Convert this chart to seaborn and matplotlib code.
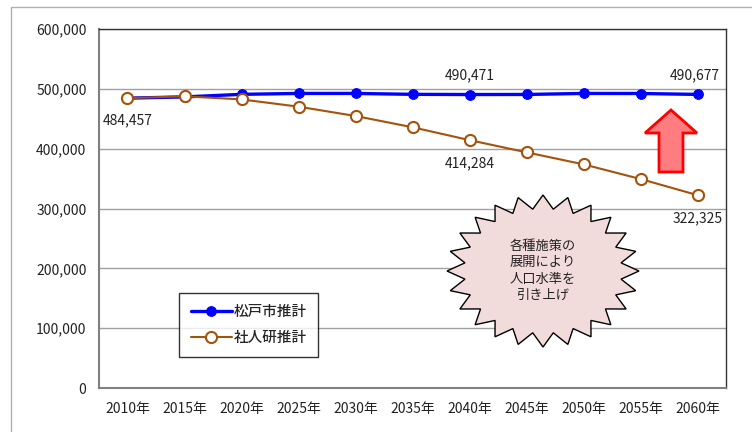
import numpy as np
import pandas as pd
import matplotlib
matplotlib.use("Agg")
import matplotlib.pyplot as plt
import seaborn as sns
from matplotlib.patches import Polygon, Rectangle

years = ["2010年", "2015年", "2020年", "2025年", "2030年", "2035年",
         "2040年", "2045年", "2050年", "2055年", "2060年"]
matsudo = [484457, 486500, 490800, 492300, 492300, 490800,
           490471, 490600, 492300, 492200, 490677]
shajinken = [484457, 487500, 482300, 470200, 454600, 435800,
             414284, 393900, 373800, 349300, 322325]
series_names = ["松戸市推計", "社人研推計"]
yticks = [0, 100000, 200000, 300000, 400000, 500000, 600000]
annotations = [(0, 484457, "484,457"), (6, 490471, "490,471"), (6, 414284, "414,284"),
               (10, 490677, "490,677"), (10, 322325, "322,325")]
burst_text = "各種施策の\n展開により\n人口水準を\n引き上げ"

sns.set_theme(style="white")
plt.rcParams['font.family'] = ['Noto Sans CJK JP', 'DejaVu Sans']

W, H = 752, 432
fig = plt.figure(figsize=(W / 100, H / 100), dpi=100)
ax = fig.add_axes([99 / W, 1 - 388 / H, (726 - 99) / W, (388 - 29) / H])

x = np.arange(len(years))
df = pd.DataFrame({"x": np.concatenate([x, x]),
                   "value": matsudo + shajinken,
                   "series": [series_names[0]] * len(x) + [series_names[1]] * len(x)})

blue = "#0000FF"
brown = "#A5520C"
FS = 10
sns.lineplot(data=df[df.series == series_names[0]], x="x", y="value", ax=ax,
             color=blue, linewidth=2.4, marker="o", markersize=7,
             markerfacecolor=blue, markeredgecolor=blue, label=series_names[0], zorder=3)
sns.lineplot(data=df[df.series == series_names[1]], x="x", y="value", ax=ax,
             color=brown, linewidth=1.5, marker="o", markersize=8,
             markerfacecolor="white", markeredgecolor=brown, markeredgewidth=1.5,
             label=series_names[1], zorder=4)

ax.set_xlim(-0.5, len(years) - 0.5)
ax.set_ylim(0, 600000)
ax.set_yticks(yticks)
ax.set_yticklabels([f"{v:,}" for v in yticks], fontsize=FS, color="#222222")
ax.set_xticks(x)
ax.set_xticklabels(years, fontsize=FS, color="#222222")
ax.set_xticks(np.arange(len(years) + 1) - 0.5, minor=True)
ax.tick_params(axis="x", which="major", length=0, pad=10)
ax.tick_params(axis="x", which="minor", length=5, width=1, color="#808080", direction="out")
ax.tick_params(axis="y", which="major", length=5, width=1, color="#808080", direction="out", pad=4)
ax.set_xlabel("")
ax.set_ylabel("")
ax.grid(axis="y", color="#A0A0A0", linewidth=1)
ax.set_axisbelow(True)
for s in ["left", "bottom"]:
    ax.spines[s].set_color("#808080")
    ax.spines[s].set_linewidth(1.5)
for s in ["top", "right"]:
    ax.spines[s].set_color("#333333")
    ax.spines[s].set_linewidth(1.0)

# data labels
offs = {"484,457": (0, -16), "490,471": (0, 14), "414,284": (0, -17),
        "490,677": (-2, 14), "322,325": (0, -17)}
for xi, yv, t in annotations:
    dx, dy = offs[t]
    ax.annotate(t, (xi, yv), xytext=(dx, dy), textcoords="offset points",
                ha="center", va="center", fontsize=FS, color="#222222", zorder=6)

# legend
leg = ax.legend(loc="upper left", bbox_to_anchor=((179 - 99) / 627, (388 - 293) / 359),
                frameon=True, fancybox=False, fontsize=10.5, handlelength=2.8,
                handletextpad=0.15, borderpad=0.8, labelspacing=0.85, borderaxespad=0)
leg.get_frame().set_edgecolor("black")
leg.get_frame().set_linewidth(1.0)
for t in leg.get_texts():
    t.set_fontweight("medium")

# starburst
cx, cy = 543, 271
n = 24
ang = np.linspace(0, 2 * np.pi, 2 * n, endpoint=False) + np.pi / 2
r = np.where(np.arange(2 * n) % 2 == 0, 1.0, 0.82)
px = cx + 96 * r * np.cos(ang)
py = cy - 76 * r * np.sin(ang)
pts = np.column_stack([px / W, 1 - py / H])
fig.patches.append(Polygon(pts, closed=True, transform=fig.transFigure,
                           facecolor="#F2DCDB", edgecolor="black", linewidth=1.0, zorder=5))
fig.text(cx / W, 1 - 271 / H, burst_text, ha="center", va="center", fontsize=9.5,
         linespacing=1.32, color="#222222", zorder=6)

# red arrow
ax_pts = [(659, 172), (683, 172), (683, 133), (697, 133), (671, 110), (645, 133), (659, 133)]
fig.patches.append(Polygon([(a / W, 1 - b / H) for a, b in ax_pts], closed=True,
                           transform=fig.transFigure, facecolor="#FF7C80",
                           edgecolor="#FF0000", linewidth=2, zorder=5))

# outer frame
fig.patches.append(Rectangle((11 / W, -0.1), 1.2, 1 - 7 / H + 0.1, transform=fig.transFigure,
                             facecolor="none", edgecolor="#B0B0B0", linewidth=1.0, zorder=0))

fig.savefig("out.png", dpi=100)
